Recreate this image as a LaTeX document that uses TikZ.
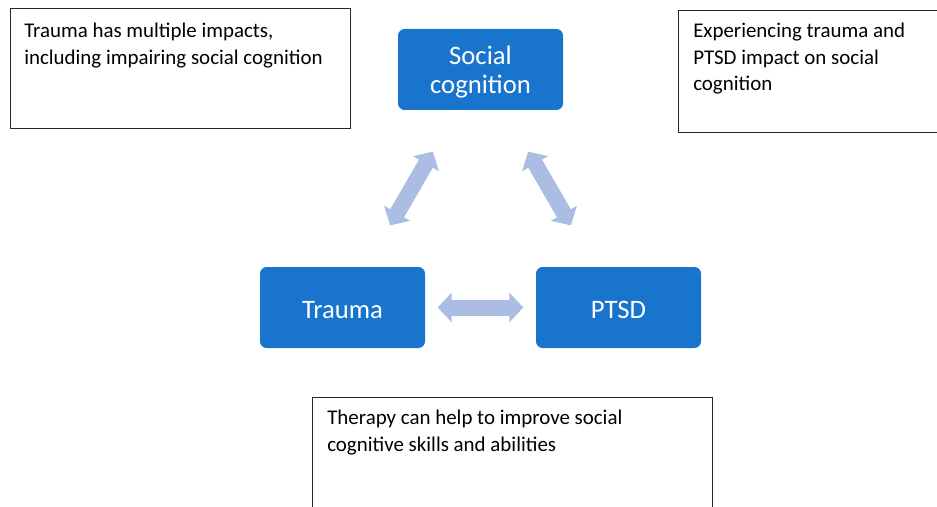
\documentclass[tikz,border=0pt]{standalone}
\usepackage{fontspec}
\setmainfont{Carlito}
\usetikzlibrary{positioning, arrows.meta}
\definecolor{boxblue}{RGB}{24,116,205}
\definecolor{arrowblue}{RGB}{172,189,227}
\tikzset{x=0.75pt, y=-0.75pt, % one unit is one pixel of the layout
every node/.style={inner sep=0pt},
concept/.style={ % the three blue boxes
fill=boxblue, rounded corners=5pt, text=white,
minimum width=123.75pt, minimum height=60.75pt, align=center,
font=\fontsize{20}{21.75}\selectfont},
notebox/.style={ % framed note around a comment
draw=black!85, line width=0.9pt, anchor=north west},
notetext/.style={anchor=north west, align=left,
font=\fontsize{15.7}{19.8}\selectfont},
twoway/.style={ % wide double headed arrows
draw=arrowblue, line width=12pt,
{Triangle[width=22pt,length=10.5pt]}-{Triangle[width=22pt,length=10.5pt]}}}

\begin{document}
\begin{tikzpicture}
    \useasboundingbox (0,0) rectangle (937,506);

    \node[concept] (social) at (480.5,69.5) {\rule{0pt}{18pt}Social\\cognition};
    \node[concept] (trauma) at (342.5,307.5) {\rule{0pt}{16pt}Trauma};
    \node[concept] (ptsd) at (618.5,307.5) {\rule{0pt}{16pt}PTSD};

    \path (trauma.center) -- (social.center) coordinate[pos=0.345] (ts1) coordinate[pos=0.655] (ts2);
    \path (social.center) -- (ptsd.center) coordinate[pos=0.345] (sp1) coordinate[pos=0.655] (sp2);
    \path (trauma.center) -- (ptsd.center) coordinate[pos=0.345] (tp1) coordinate[pos=0.655] (tp2);
    \draw[twoway] (ts1) -- (ts2);
    \draw[twoway] (sp1) -- (sp2);
    \draw[twoway] (tp1) -- (tp2);

    \node[notebox, minimum width=255pt, minimum height=90pt] (leftbox) at (10,8) {};
    \node[notetext] (lefttext) at (24,23) {Trauma has multiple impacts,\\including impairing social cognition};

    \node[notebox, minimum width=210pt, minimum height=91.5pt] (rightbox) at (678,10) {};
    \node[notetext] (righttext) at (693,23) {Experiencing trauma and\\PTSD impact on social\\cognition};

    \node[notebox, minimum width=300pt, minimum height=100pt] (bottombox) at (312,397) {};
    \node[notetext] (bottomtext) at (327,410) {Therapy can help to improve social\\cognitive skills and abilities};

\end{tikzpicture}
\end{document}
